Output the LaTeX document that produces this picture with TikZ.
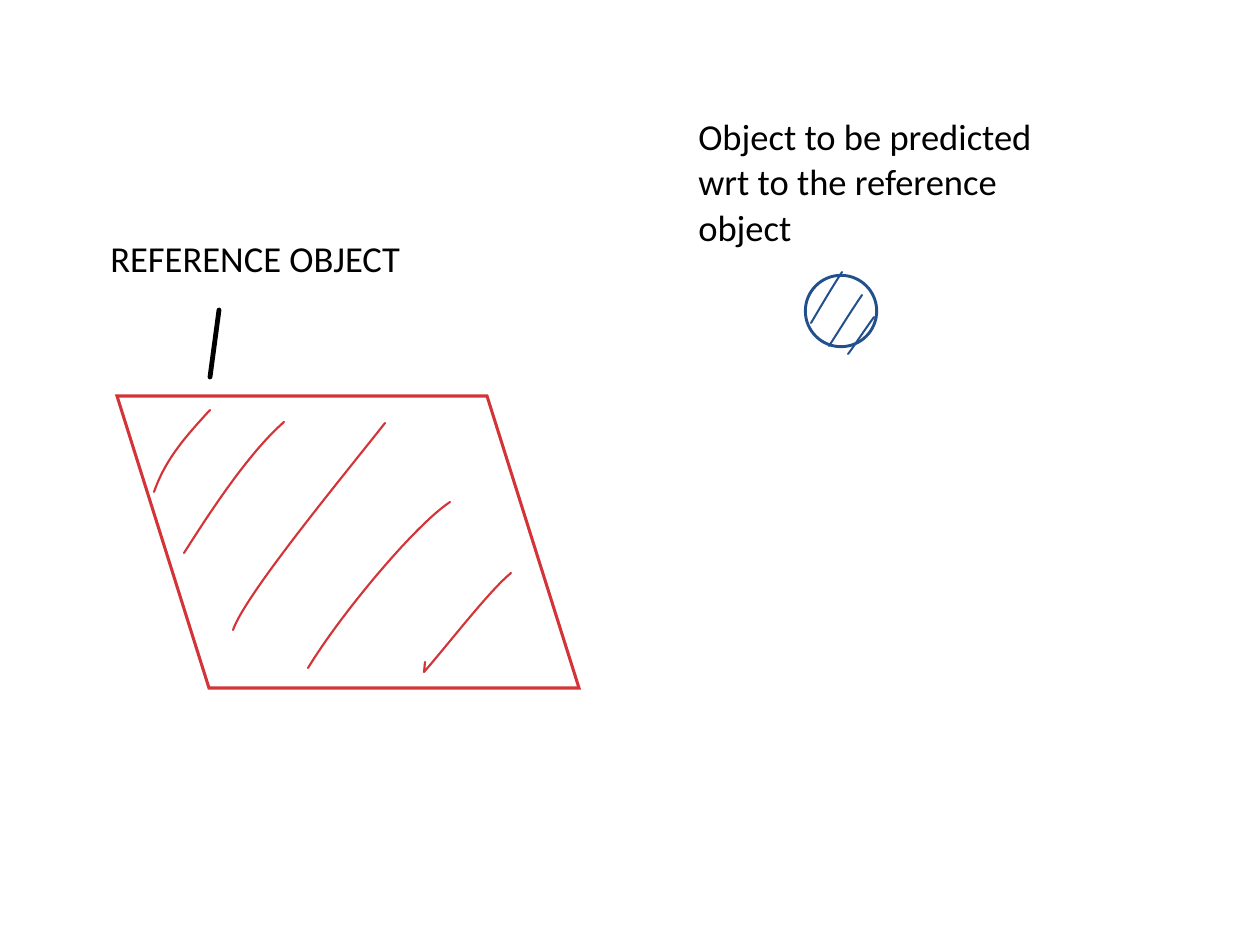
\documentclass[tikz,border=0pt]{standalone}
\usepackage{fontspec}
\setmainfont{Carlito}
\definecolor{myred}{RGB}{211,52,56}
\definecolor{myblue}{RGB}{33,80,140}
\begin{document}
\begin{tikzpicture}[x=0.75pt,y=-0.75pt,
  lbl/.style={anchor=base west,inner sep=0pt,font=\fontsize{27.4}{34}\selectfont},
  redhatch/.style={myred,line width=1.6pt,line cap=round,line join=round},
  bluehatch/.style={myblue,line width=1.5pt,line cap=round,line join=round}]
\useasboundingbox (0,0) rectangle (1237,941);
% labels
\node[lbl] (reflbl) at (110,272) {REFERENCE OBJECT};
\node[lbl] (l1) at (698,151) {Object to be predicted};
\node[lbl] (l2) at (698,196) {wrt to the reference};
\node[lbl] (l3) at (698,241) {object};
% pointer stroke
\coordinate (pa) at (219,310);
\coordinate (pb) at (210,377);
\draw[black,line width=3.6pt,line cap=round] (pa) -- (pb);
% parallelogram
\coordinate (A) at (117,396);
\coordinate (B) at (487,396);
\coordinate (C) at (579,688);
\coordinate (D) at (209,688);
\draw[myred,line width=2.3pt,line join=miter] (A) -- (B) -- (C) -- (D) -- cycle;
% red hatches
\draw[redhatch] (154,492) .. controls (165,460) and (185,437) .. (210,410);
\draw[redhatch] (184,553) .. controls (205,520) and (247,454) .. (284,422);
\draw[redhatch] (233,630) .. controls (245,595) and (340,480) .. (385,423);
\draw[redhatch] (308,668) .. controls (340,615) and (415,525) .. (450,502);
\draw[redhatch] (425,662) -- (424,672) .. controls (450,642) and (490,590) .. (511,573);
% circle
\node[draw=myblue,line width=2.2pt,circle,minimum size=53.5pt,inner sep=0pt] (obj) at (841,311) {};
\draw[bluehatch] (811,323) .. controls (821,306) and (831,289) .. (842,272);
\draw[bluehatch] (829,346) .. controls (840,329) and (851,311) .. (862,295);
\draw[bluehatch] (874,317) .. controls (866,328) and (858,340) .. (851,350) -- (848,354);
\end{tikzpicture}
\end{document}
